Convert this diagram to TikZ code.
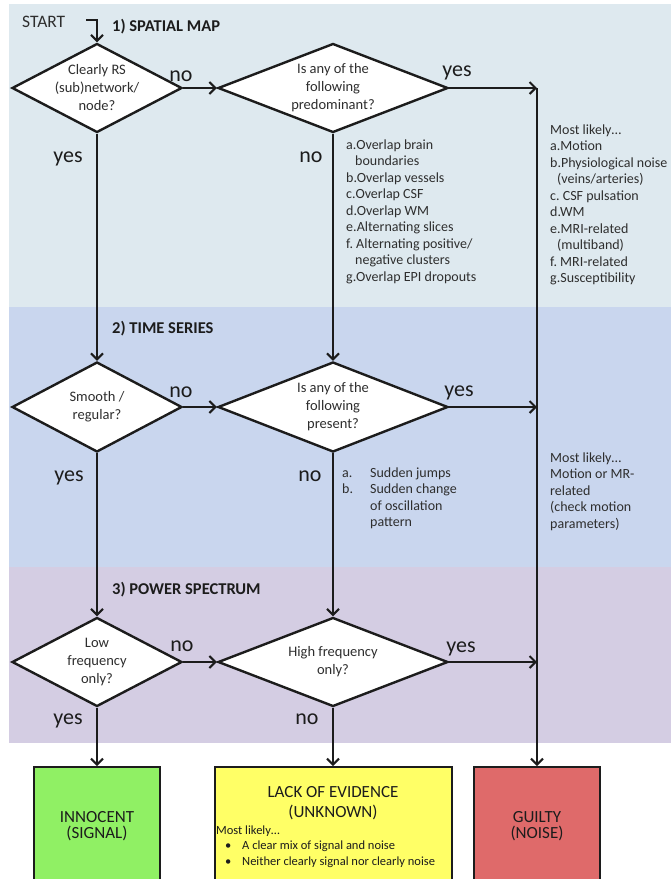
\documentclass[tikz,border=0pt]{standalone}
\usepackage{fontspec}
\setmainfont{Carlito}
\usetikzlibrary{shapes.geometric,arrows.meta}
\definecolor{bandA}{HTML}{DEE9EF}
\definecolor{bandB}{HTML}{C9D6EE}
\definecolor{bandC}{HTML}{D4CDE3}
\definecolor{ink}{HTML}{1C1C1C}
\definecolor{txt}{HTML}{2E2E2E}
\definecolor{okgreen}{HTML}{90F064}
\definecolor{unkyellow}{HTML}{FFFF66}
\definecolor{badred}{HTML}{DF6A6A}
\begin{document}
\begin{tikzpicture}[x=1pt,y=-1pt,
  dia/.style={diamond, draw=ink, line width=2.4pt, fill=white, inner sep=0pt,
    minimum width=#1, minimum height=89pt},
  dtxt/.style={align=center, inner sep=0pt, text=txt, font=\fontsize{14.5}{18}\selectfont},
  lab/.style={anchor=base, inner sep=0pt, text=ink, font=\fontsize{22}{22}\selectfont},
  ttl/.style={anchor=base west, inner sep=0pt, text=ink, font=\bfseries\fontsize{16.5}{16.5}\selectfont},
  lst/.style={anchor=base west, inner sep=0pt, text=txt, font=\fontsize{14}{16.5}\selectfont},
  outbox/.style={draw=ink, line width=2pt, minimum height=130pt, anchor=north, inner sep=0pt},
  otxt/.style={anchor=base, inner sep=0pt, text=ink, font=\fontsize{17}{16}\selectfont},
  arr/.style={draw=ink, line width=2.3pt, -{Straight Barb[length=6pt,width=12pt,line width=2pt]}},
  ln/.style={draw=ink, line width=2.3pt}
]
\useasboundingbox (0,0) rectangle (671,879);
% bands
\fill[bandA] (9,4) rectangle (671,307);
\fill[bandB] (9,307) rectangle (671,567);
\fill[bandC] (9,567) rectangle (671,743);

% titles
\node[anchor=base west, inner sep=0pt, text=txt, font=\fontsize{17.5}{17.5}\selectfont] (start) at (22,27) {START};
\node[ttl] (t1) at (112,31) {1) SPATIAL MAP};
\node[ttl] (t2) at (112,333) {2) TIME SERIES};
\node[ttl] (t3) at (112,594) {3) POWER SPECTRUM};

% diamonds
\node[dia=170pt] (d1) at (97,88) {};
\node[dtxt] (d1t) at (d1.center) {Clearly RS\\(sub)network/\\node?};
\node[dia=230pt] (d2) at (333,88) {};
\node[dtxt] (d2t) at (d2.center) {Is any of the\\following\\predominant?};
\node[dia=170pt, minimum height=90pt] (d3) at (97,407) {};
\node[dtxt] (d3t) at (d3.center) {Smooth /\\regular?};
\node[dia=230pt, minimum height=90pt] (d4) at (333,407) {};
\node[dtxt] (d4t) at (d4.center) {Is any of the\\following\\present?};
\node[dia=170pt] (d5) at (97,662) {};
\node[dtxt] (d5t) at (d5.center) {Low\\frequency\\only?};
\node[dia=230pt] (d6) at (333,662) {};
\node[dtxt] (d6t) at (d6.center) {High frequency\\only?};

% outcome boxes
\node[outbox, fill=okgreen, minimum width=126pt] (inn) at (97,766) {};
\node[outbox, fill=unkyellow, minimum width=237pt] (lack) at (333,766) {};
\node[outbox, fill=badred, minimum width=126pt] (guilty) at (537,766) {};

\node[otxt] (innt) at (97,822) {\parbox[t]{120pt}{\centering INNOCENT\\(SIGNAL)}};
\node[otxt] (guiltyt) at (537,822) {\parbox[t]{120pt}{\centering GUILTY\\(NOISE)}};
\node[otxt, font=\fontsize{17}{20}\selectfont] (lackt) at (333,797) {\parbox[t]{230pt}{\centering LACK OF EVIDENCE\\(UNKNOWN)}};
\node[anchor=base west, inner sep=0pt, text=ink, font=\fontsize{12.5}{15.5}\selectfont] (lackl) at (216,834)
  {\parbox[t]{230pt}{Most likely…\\
   \hspace*{9pt}\makebox[17pt][l]{•}A clear mix of signal and noise\\
   \hspace*{9pt}\makebox[17pt][l]{•}Neither clearly signal nor clearly noise}};

% lists
\node[lst] (l1) at (346,149) {\parbox[t]{170pt}{a.Overlap brain\\
  \hspace*{9pt}boundaries\\
  b.Overlap vessels\\
  c.Overlap CSF\\
  d.Overlap WM\\
  e.Alternating slices\\
  f.\ Alternating positive/\\
  \hspace*{9pt}negative clusters\\
  g.Overlap EPI dropouts}};
\node[lst] (r1) at (550,134) {\parbox[t]{125pt}{Most likely…\\
  a.Motion\\
  b.Physiological noise\\
  \hspace*{7pt}(veins/arteries)\\
  c.\ CSF pulsation\\
  d.WM\\
  e.MRI-related\\
  \hspace*{7pt}(multiband)\\
  f.\ MRI-related\\
  g.Susceptibility}};
\node[lst] (l2) at (342,477) {\parbox[t]{170pt}{\makebox[28pt][l]{a.}Sudden jumps\\
  \makebox[28pt][l]{b.}Sudden change\\
  \hspace*{28pt}of oscillation\\
  \hspace*{28pt}pattern}};
\node[lst] (r2) at (550,462) {\parbox[t]{125pt}{Most likely…\\
  Motion or MR-\\
  related\\
  (check motion\\
  parameters)}};

% yes/no labels
\node[lab] (n1) at (181,81) {no};
\node[lab] (y2) at (457,76) {yes};
\node[lab] (y1) at (68,162) {yes};
\node[lab] (n2) at (311,162) {no};
\node[lab] (n3) at (181,397) {no};
\node[lab] (y4) at (459,396) {yes};
\node[lab] (y3) at (69,481) {yes};
\node[lab] (n4) at (310,481) {no};
\node[lab] (n5) at (182,651) {no};
\node[lab] (y6) at (461,652) {yes};
\node[lab] (y5) at (68,724) {yes};
\node[lab] (n6) at (307,724) {no};

% coordinates on the right trunk
\coordinate (s0) at (86,20);
\coordinate (g1) at (537,88);
\coordinate (g2) at (537,407);
\coordinate (g3) at (537,662);

% connectors
\draw[arr] (s0) -| (d1.north);
\draw[arr] (d1.east) -- (d2.west);
\draw[arr] (d3.east) -- (d4.west);
\draw[arr] (d5.east) -- (d6.west);
\draw[arr] (d2.east) -- (g1);
\draw[arr] (d4.east) -- (g2);
\draw[arr] (d6.east) -- (g3);
\draw[arr] (g1) -- (guilty.north);
\draw[arr] (d1.south) -- (d3.north);
\draw[arr] (d3.south) -- (d5.north);
\draw[arr] (d5.south) -- (inn.north);
\draw[arr] (d2.south) -- (d4.north);
\draw[arr] (d4.south) -- (d6.north);
\draw[arr] (d6.south) -- (lack.north);
\end{tikzpicture}
\end{document}
